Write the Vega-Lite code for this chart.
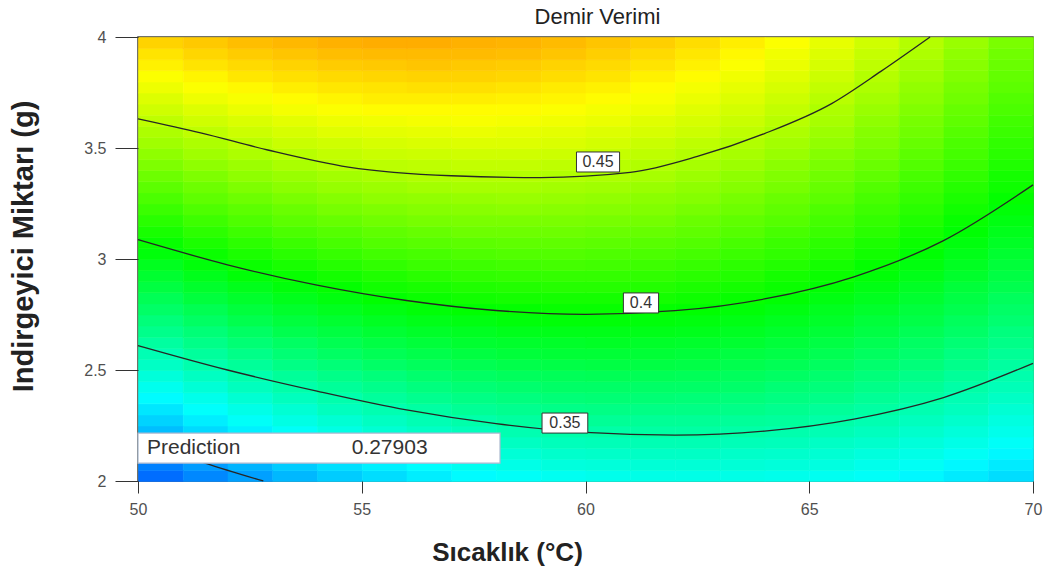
{
"$schema": "https://vega.github.io/schema/vega-lite/v6.json",
"width": 895, "height": 444,
"autosize": "none",
"padding": {"left": 138, "top": 37, "right": 19, "bottom": 90},
"background": "white",
"title": {"text": "Demir Verimi", "font": "Liberation Sans", "fontSize": 22, "fontWeight": "normal", "color": "#222222", "offset": 0, "dx": 12},
"config": {
  "view": {"stroke": "#444436", "strokeWidth": 1.5},
  "axis": {"domain": false, "grid": false, "labelFont": "Liberation Sans", "titleFont": "Liberation Sans", "labelColor": "#505050", "tickColor": "#333333", "titleColor": "#222222"},
  "axisX": {"format": "d", "labelFlush": false, "tickSize": 12, "labelPadding": 8, "labelFontSize": 16,
            "titleFontSize": 26, "titleFontWeight": "bold", "titleX": 369, "titleY": 79, "titleBaseline": "alphabetic", "titleAlign": "center"},
  "axisY": {"format": "~g", "labelFlush": false, "tickSize": 23, "labelPadding": 9, "labelFontSize": 16,
            "titleFontSize": 29, "titleFontWeight": "bold", "titleAngle": -90, "titleX": -106, "titleY": 209, "titleBaseline": "alphabetic", "titleAlign": "center"}
},
"layer": [
{
"data": {"values": [
{"t":50.5,"m":2.025,"v":0.282},{"t":51.5,"m":2.025,"v":0.290},{"t":52.5,"m":2.025,"v":0.297},{"t":53.5,"m":2.025,"v":0.304},{"t":54.5,"m":2.025,"v":0.310},{"t":55.5,"m":2.025,"v":0.315},{"t":56.5,"m":2.025,"v":0.320},{"t":57.5,"m":2.025,"v":0.324},{"t":58.5,"m":2.025,"v":0.327},{"t":59.5,"m":2.025,"v":0.329},{"t":60.5,"m":2.025,"v":0.331},{"t":61.5,"m":2.025,"v":0.332},{"t":62.5,"m":2.025,"v":0.332},{"t":63.5,"m":2.025,"v":0.332},{"t":64.5,"m":2.025,"v":0.331},{"t":65.5,"m":2.025,"v":0.329},{"t":66.5,"m":2.025,"v":0.327},{"t":67.5,"m":2.025,"v":0.323},{"t":68.5,"m":2.025,"v":0.319},{"t":69.5,"m":2.025,"v":0.315},
{"t":50.5,"m":2.075,"v":0.288},{"t":51.5,"m":2.075,"v":0.296},{"t":52.5,"m":2.075,"v":0.303},{"t":53.5,"m":2.075,"v":0.310},{"t":54.5,"m":2.075,"v":0.316},{"t":55.5,"m":2.075,"v":0.321},{"t":56.5,"m":2.075,"v":0.325},{"t":57.5,"m":2.075,"v":0.329},{"t":58.5,"m":2.075,"v":0.332},{"t":59.5,"m":2.075,"v":0.335},{"t":60.5,"m":2.075,"v":0.336},{"t":61.5,"m":2.075,"v":0.337},{"t":62.5,"m":2.075,"v":0.337},{"t":63.5,"m":2.075,"v":0.337},{"t":64.5,"m":2.075,"v":0.336},{"t":65.5,"m":2.075,"v":0.334},{"t":66.5,"m":2.075,"v":0.331},{"t":67.5,"m":2.075,"v":0.328},{"t":68.5,"m":2.075,"v":0.323},{"t":69.5,"m":2.075,"v":0.319},
{"t":50.5,"m":2.125,"v":0.294},{"t":51.5,"m":2.125,"v":0.302},{"t":52.5,"m":2.125,"v":0.309},{"t":53.5,"m":2.125,"v":0.316},{"t":54.5,"m":2.125,"v":0.321},{"t":55.5,"m":2.125,"v":0.326},{"t":56.5,"m":2.125,"v":0.331},{"t":57.5,"m":2.125,"v":0.335},{"t":58.5,"m":2.125,"v":0.337},{"t":59.5,"m":2.125,"v":0.340},{"t":60.5,"m":2.125,"v":0.341},{"t":61.5,"m":2.125,"v":0.342},{"t":62.5,"m":2.125,"v":0.342},{"t":63.5,"m":2.125,"v":0.341},{"t":64.5,"m":2.125,"v":0.340},{"t":65.5,"m":2.125,"v":0.338},{"t":66.5,"m":2.125,"v":0.335},{"t":67.5,"m":2.125,"v":0.332},{"t":68.5,"m":2.125,"v":0.328},{"t":69.5,"m":2.125,"v":0.323},
{"t":50.5,"m":2.175,"v":0.300},{"t":51.5,"m":2.175,"v":0.308},{"t":52.5,"m":2.175,"v":0.315},{"t":53.5,"m":2.175,"v":0.321},{"t":54.5,"m":2.175,"v":0.327},{"t":55.5,"m":2.175,"v":0.332},{"t":56.5,"m":2.175,"v":0.336},{"t":57.5,"m":2.175,"v":0.340},{"t":58.5,"m":2.175,"v":0.343},{"t":59.5,"m":2.175,"v":0.345},{"t":60.5,"m":2.175,"v":0.346},{"t":61.5,"m":2.175,"v":0.347},{"t":62.5,"m":2.175,"v":0.347},{"t":63.5,"m":2.175,"v":0.346},{"t":64.5,"m":2.175,"v":0.345},{"t":65.5,"m":2.175,"v":0.342},{"t":66.5,"m":2.175,"v":0.340},{"t":67.5,"m":2.175,"v":0.336},{"t":68.5,"m":2.175,"v":0.332},{"t":69.5,"m":2.175,"v":0.327},
{"t":50.5,"m":2.225,"v":0.306},{"t":51.5,"m":2.225,"v":0.314},{"t":52.5,"m":2.225,"v":0.321},{"t":53.5,"m":2.225,"v":0.327},{"t":54.5,"m":2.225,"v":0.333},{"t":55.5,"m":2.225,"v":0.338},{"t":56.5,"m":2.225,"v":0.342},{"t":57.5,"m":2.225,"v":0.345},{"t":58.5,"m":2.225,"v":0.348},{"t":59.5,"m":2.225,"v":0.350},{"t":60.5,"m":2.225,"v":0.351},{"t":61.5,"m":2.225,"v":0.352},{"t":62.5,"m":2.225,"v":0.352},{"t":63.5,"m":2.225,"v":0.351},{"t":64.5,"m":2.225,"v":0.349},{"t":65.5,"m":2.225,"v":0.347},{"t":66.5,"m":2.225,"v":0.344},{"t":67.5,"m":2.225,"v":0.340},{"t":68.5,"m":2.225,"v":0.336},{"t":69.5,"m":2.225,"v":0.331},
{"t":50.5,"m":2.275,"v":0.312},{"t":51.5,"m":2.275,"v":0.320},{"t":52.5,"m":2.275,"v":0.327},{"t":53.5,"m":2.275,"v":0.333},{"t":54.5,"m":2.275,"v":0.338},{"t":55.5,"m":2.275,"v":0.343},{"t":56.5,"m":2.275,"v":0.347},{"t":57.5,"m":2.275,"v":0.350},{"t":58.5,"m":2.275,"v":0.353},{"t":59.5,"m":2.275,"v":0.355},{"t":60.5,"m":2.275,"v":0.356},{"t":61.5,"m":2.275,"v":0.356},{"t":62.5,"m":2.275,"v":0.356},{"t":63.5,"m":2.275,"v":0.355},{"t":64.5,"m":2.275,"v":0.354},{"t":65.5,"m":2.275,"v":0.351},{"t":66.5,"m":2.275,"v":0.348},{"t":67.5,"m":2.275,"v":0.344},{"t":68.5,"m":2.275,"v":0.340},{"t":69.5,"m":2.275,"v":0.334},
{"t":50.5,"m":2.325,"v":0.318},{"t":51.5,"m":2.325,"v":0.326},{"t":52.5,"m":2.325,"v":0.332},{"t":53.5,"m":2.325,"v":0.338},{"t":54.5,"m":2.325,"v":0.344},{"t":55.5,"m":2.325,"v":0.348},{"t":56.5,"m":2.325,"v":0.352},{"t":57.5,"m":2.325,"v":0.356},{"t":58.5,"m":2.325,"v":0.358},{"t":59.5,"m":2.325,"v":0.360},{"t":60.5,"m":2.325,"v":0.361},{"t":61.5,"m":2.325,"v":0.361},{"t":62.5,"m":2.325,"v":0.361},{"t":63.5,"m":2.325,"v":0.360},{"t":64.5,"m":2.325,"v":0.358},{"t":65.5,"m":2.325,"v":0.355},{"t":66.5,"m":2.325,"v":0.352},{"t":67.5,"m":2.325,"v":0.348},{"t":68.5,"m":2.325,"v":0.344},{"t":69.5,"m":2.325,"v":0.338},
{"t":50.5,"m":2.375,"v":0.324},{"t":51.5,"m":2.375,"v":0.331},{"t":52.5,"m":2.375,"v":0.338},{"t":53.5,"m":2.375,"v":0.344},{"t":54.5,"m":2.375,"v":0.349},{"t":55.5,"m":2.375,"v":0.354},{"t":56.5,"m":2.375,"v":0.358},{"t":57.5,"m":2.375,"v":0.361},{"t":58.5,"m":2.375,"v":0.363},{"t":59.5,"m":2.375,"v":0.365},{"t":60.5,"m":2.375,"v":0.366},{"t":61.5,"m":2.375,"v":0.366},{"t":62.5,"m":2.375,"v":0.365},{"t":63.5,"m":2.375,"v":0.364},{"t":64.5,"m":2.375,"v":0.362},{"t":65.5,"m":2.375,"v":0.360},{"t":66.5,"m":2.375,"v":0.356},{"t":67.5,"m":2.375,"v":0.352},{"t":68.5,"m":2.375,"v":0.347},{"t":69.5,"m":2.375,"v":0.342},
{"t":50.5,"m":2.425,"v":0.330},{"t":51.5,"m":2.425,"v":0.337},{"t":52.5,"m":2.425,"v":0.344},{"t":53.5,"m":2.425,"v":0.350},{"t":54.5,"m":2.425,"v":0.355},{"t":55.5,"m":2.425,"v":0.359},{"t":56.5,"m":2.425,"v":0.363},{"t":57.5,"m":2.425,"v":0.366},{"t":58.5,"m":2.425,"v":0.368},{"t":59.5,"m":2.425,"v":0.370},{"t":60.5,"m":2.425,"v":0.370},{"t":61.5,"m":2.425,"v":0.370},{"t":62.5,"m":2.425,"v":0.370},{"t":63.5,"m":2.425,"v":0.369},{"t":64.5,"m":2.425,"v":0.366},{"t":65.5,"m":2.425,"v":0.364},{"t":66.5,"m":2.425,"v":0.360},{"t":67.5,"m":2.425,"v":0.356},{"t":68.5,"m":2.425,"v":0.351},{"t":69.5,"m":2.425,"v":0.346},
{"t":50.5,"m":2.475,"v":0.336},{"t":51.5,"m":2.475,"v":0.343},{"t":52.5,"m":2.475,"v":0.349},{"t":53.5,"m":2.475,"v":0.355},{"t":54.5,"m":2.475,"v":0.360},{"t":55.5,"m":2.475,"v":0.364},{"t":56.5,"m":2.475,"v":0.368},{"t":57.5,"m":2.475,"v":0.371},{"t":58.5,"m":2.475,"v":0.373},{"t":59.5,"m":2.475,"v":0.374},{"t":60.5,"m":2.475,"v":0.375},{"t":61.5,"m":2.475,"v":0.375},{"t":62.5,"m":2.475,"v":0.374},{"t":63.5,"m":2.475,"v":0.373},{"t":64.5,"m":2.475,"v":0.371},{"t":65.5,"m":2.475,"v":0.368},{"t":66.5,"m":2.475,"v":0.364},{"t":67.5,"m":2.475,"v":0.360},{"t":68.5,"m":2.475,"v":0.355},{"t":69.5,"m":2.475,"v":0.349},
{"t":50.5,"m":2.525,"v":0.342},{"t":51.5,"m":2.525,"v":0.349},{"t":52.5,"m":2.525,"v":0.355},{"t":53.5,"m":2.525,"v":0.361},{"t":54.5,"m":2.525,"v":0.365},{"t":55.5,"m":2.525,"v":0.370},{"t":56.5,"m":2.525,"v":0.373},{"t":57.5,"m":2.525,"v":0.376},{"t":58.5,"m":2.525,"v":0.378},{"t":59.5,"m":2.525,"v":0.379},{"t":60.5,"m":2.525,"v":0.380},{"t":61.5,"m":2.525,"v":0.380},{"t":62.5,"m":2.525,"v":0.379},{"t":63.5,"m":2.525,"v":0.377},{"t":64.5,"m":2.525,"v":0.375},{"t":65.5,"m":2.525,"v":0.372},{"t":66.5,"m":2.525,"v":0.368},{"t":67.5,"m":2.525,"v":0.364},{"t":68.5,"m":2.525,"v":0.359},{"t":69.5,"m":2.525,"v":0.353},
{"t":50.5,"m":2.575,"v":0.347},{"t":51.5,"m":2.575,"v":0.354},{"t":52.5,"m":2.575,"v":0.360},{"t":53.5,"m":2.575,"v":0.366},{"t":54.5,"m":2.575,"v":0.371},{"t":55.5,"m":2.575,"v":0.375},{"t":56.5,"m":2.575,"v":0.378},{"t":57.5,"m":2.575,"v":0.381},{"t":58.5,"m":2.575,"v":0.383},{"t":59.5,"m":2.575,"v":0.384},{"t":60.5,"m":2.575,"v":0.384},{"t":61.5,"m":2.575,"v":0.384},{"t":62.5,"m":2.575,"v":0.383},{"t":63.5,"m":2.575,"v":0.381},{"t":64.5,"m":2.575,"v":0.379},{"t":65.5,"m":2.575,"v":0.376},{"t":66.5,"m":2.575,"v":0.372},{"t":67.5,"m":2.575,"v":0.368},{"t":68.5,"m":2.575,"v":0.362},{"t":69.5,"m":2.575,"v":0.356},
{"t":50.5,"m":2.625,"v":0.353},{"t":51.5,"m":2.625,"v":0.360},{"t":52.5,"m":2.625,"v":0.366},{"t":53.5,"m":2.625,"v":0.371},{"t":54.5,"m":2.625,"v":0.376},{"t":55.5,"m":2.625,"v":0.380},{"t":56.5,"m":2.625,"v":0.383},{"t":57.5,"m":2.625,"v":0.386},{"t":58.5,"m":2.625,"v":0.387},{"t":59.5,"m":2.625,"v":0.388},{"t":60.5,"m":2.625,"v":0.389},{"t":61.5,"m":2.625,"v":0.388},{"t":62.5,"m":2.625,"v":0.387},{"t":63.5,"m":2.625,"v":0.386},{"t":64.5,"m":2.625,"v":0.383},{"t":65.5,"m":2.625,"v":0.380},{"t":66.5,"m":2.625,"v":0.376},{"t":67.5,"m":2.625,"v":0.371},{"t":68.5,"m":2.625,"v":0.366},{"t":69.5,"m":2.625,"v":0.360},
{"t":50.5,"m":2.675,"v":0.359},{"t":51.5,"m":2.675,"v":0.365},{"t":52.5,"m":2.675,"v":0.371},{"t":53.5,"m":2.675,"v":0.377},{"t":54.5,"m":2.675,"v":0.381},{"t":55.5,"m":2.675,"v":0.385},{"t":56.5,"m":2.675,"v":0.388},{"t":57.5,"m":2.675,"v":0.390},{"t":58.5,"m":2.675,"v":0.392},{"t":59.5,"m":2.675,"v":0.393},{"t":60.5,"m":2.675,"v":0.393},{"t":61.5,"m":2.675,"v":0.393},{"t":62.5,"m":2.675,"v":0.392},{"t":63.5,"m":2.675,"v":0.390},{"t":64.5,"m":2.675,"v":0.387},{"t":65.5,"m":2.675,"v":0.384},{"t":66.5,"m":2.675,"v":0.380},{"t":67.5,"m":2.675,"v":0.375},{"t":68.5,"m":2.675,"v":0.370},{"t":69.5,"m":2.675,"v":0.363},
{"t":50.5,"m":2.725,"v":0.364},{"t":51.5,"m":2.725,"v":0.371},{"t":52.5,"m":2.725,"v":0.377},{"t":53.5,"m":2.725,"v":0.382},{"t":54.5,"m":2.725,"v":0.386},{"t":55.5,"m":2.725,"v":0.390},{"t":56.5,"m":2.725,"v":0.393},{"t":57.5,"m":2.725,"v":0.395},{"t":58.5,"m":2.725,"v":0.397},{"t":59.5,"m":2.725,"v":0.398},{"t":60.5,"m":2.725,"v":0.398},{"t":61.5,"m":2.725,"v":0.397},{"t":62.5,"m":2.725,"v":0.396},{"t":63.5,"m":2.725,"v":0.394},{"t":64.5,"m":2.725,"v":0.391},{"t":65.5,"m":2.725,"v":0.388},{"t":66.5,"m":2.725,"v":0.383},{"t":67.5,"m":2.725,"v":0.379},{"t":68.5,"m":2.725,"v":0.373},{"t":69.5,"m":2.725,"v":0.367},
{"t":50.5,"m":2.775,"v":0.370},{"t":51.5,"m":2.775,"v":0.376},{"t":52.5,"m":2.775,"v":0.382},{"t":53.5,"m":2.775,"v":0.387},{"t":54.5,"m":2.775,"v":0.391},{"t":55.5,"m":2.775,"v":0.395},{"t":56.5,"m":2.775,"v":0.398},{"t":57.5,"m":2.775,"v":0.400},{"t":58.5,"m":2.775,"v":0.401},{"t":59.5,"m":2.775,"v":0.402},{"t":60.5,"m":2.775,"v":0.402},{"t":61.5,"m":2.775,"v":0.401},{"t":62.5,"m":2.775,"v":0.400},{"t":63.5,"m":2.775,"v":0.398},{"t":64.5,"m":2.775,"v":0.395},{"t":65.5,"m":2.775,"v":0.391},{"t":66.5,"m":2.775,"v":0.387},{"t":67.5,"m":2.775,"v":0.382},{"t":68.5,"m":2.775,"v":0.377},{"t":69.5,"m":2.775,"v":0.370},
{"t":50.5,"m":2.825,"v":0.375},{"t":51.5,"m":2.825,"v":0.382},{"t":52.5,"m":2.825,"v":0.387},{"t":53.5,"m":2.825,"v":0.392},{"t":54.5,"m":2.825,"v":0.396},{"t":55.5,"m":2.825,"v":0.400},{"t":56.5,"m":2.825,"v":0.403},{"t":57.5,"m":2.825,"v":0.405},{"t":58.5,"m":2.825,"v":0.406},{"t":59.5,"m":2.825,"v":0.406},{"t":60.5,"m":2.825,"v":0.406},{"t":61.5,"m":2.825,"v":0.406},{"t":62.5,"m":2.825,"v":0.404},{"t":63.5,"m":2.825,"v":0.402},{"t":64.5,"m":2.825,"v":0.399},{"t":65.5,"m":2.825,"v":0.395},{"t":66.5,"m":2.825,"v":0.391},{"t":67.5,"m":2.825,"v":0.386},{"t":68.5,"m":2.825,"v":0.380},{"t":69.5,"m":2.825,"v":0.373},
{"t":50.5,"m":2.875,"v":0.381},{"t":51.5,"m":2.875,"v":0.387},{"t":52.5,"m":2.875,"v":0.392},{"t":53.5,"m":2.875,"v":0.397},{"t":54.5,"m":2.875,"v":0.401},{"t":55.5,"m":2.875,"v":0.405},{"t":56.5,"m":2.875,"v":0.407},{"t":57.5,"m":2.875,"v":0.409},{"t":58.5,"m":2.875,"v":0.410},{"t":59.5,"m":2.875,"v":0.411},{"t":60.5,"m":2.875,"v":0.411},{"t":61.5,"m":2.875,"v":0.410},{"t":62.5,"m":2.875,"v":0.408},{"t":63.5,"m":2.875,"v":0.406},{"t":64.5,"m":2.875,"v":0.403},{"t":65.5,"m":2.875,"v":0.399},{"t":66.5,"m":2.875,"v":0.394},{"t":67.5,"m":2.875,"v":0.389},{"t":68.5,"m":2.875,"v":0.383},{"t":69.5,"m":2.875,"v":0.377},
{"t":50.5,"m":2.925,"v":0.386},{"t":51.5,"m":2.925,"v":0.392},{"t":52.5,"m":2.925,"v":0.398},{"t":53.5,"m":2.925,"v":0.402},{"t":54.5,"m":2.925,"v":0.406},{"t":55.5,"m":2.925,"v":0.409},{"t":56.5,"m":2.925,"v":0.412},{"t":57.5,"m":2.925,"v":0.414},{"t":58.5,"m":2.925,"v":0.415},{"t":59.5,"m":2.925,"v":0.415},{"t":60.5,"m":2.925,"v":0.415},{"t":61.5,"m":2.925,"v":0.414},{"t":62.5,"m":2.925,"v":0.412},{"t":63.5,"m":2.925,"v":0.410},{"t":64.5,"m":2.925,"v":0.406},{"t":65.5,"m":2.925,"v":0.403},{"t":66.5,"m":2.925,"v":0.398},{"t":67.5,"m":2.925,"v":0.393},{"t":68.5,"m":2.925,"v":0.387},{"t":69.5,"m":2.925,"v":0.380},
{"t":50.5,"m":2.975,"v":0.391},{"t":51.5,"m":2.975,"v":0.397},{"t":52.5,"m":2.975,"v":0.403},{"t":53.5,"m":2.975,"v":0.407},{"t":54.5,"m":2.975,"v":0.411},{"t":55.5,"m":2.975,"v":0.414},{"t":56.5,"m":2.975,"v":0.417},{"t":57.5,"m":2.975,"v":0.418},{"t":58.5,"m":2.975,"v":0.419},{"t":59.5,"m":2.975,"v":0.420},{"t":60.5,"m":2.975,"v":0.419},{"t":61.5,"m":2.975,"v":0.418},{"t":62.5,"m":2.975,"v":0.416},{"t":63.5,"m":2.975,"v":0.413},{"t":64.5,"m":2.975,"v":0.410},{"t":65.5,"m":2.975,"v":0.406},{"t":66.5,"m":2.975,"v":0.401},{"t":67.5,"m":2.975,"v":0.396},{"t":68.5,"m":2.975,"v":0.390},{"t":69.5,"m":2.975,"v":0.383},
{"t":50.5,"m":3.025,"v":0.397},{"t":51.5,"m":3.025,"v":0.403},{"t":52.5,"m":3.025,"v":0.408},{"t":53.5,"m":3.025,"v":0.412},{"t":54.5,"m":3.025,"v":0.416},{"t":55.5,"m":3.025,"v":0.419},{"t":56.5,"m":3.025,"v":0.421},{"t":57.5,"m":3.025,"v":0.423},{"t":58.5,"m":3.025,"v":0.424},{"t":59.5,"m":3.025,"v":0.424},{"t":60.5,"m":3.025,"v":0.423},{"t":61.5,"m":3.025,"v":0.422},{"t":62.5,"m":3.025,"v":0.420},{"t":63.5,"m":3.025,"v":0.417},{"t":64.5,"m":3.025,"v":0.414},{"t":65.5,"m":3.025,"v":0.410},{"t":66.5,"m":3.025,"v":0.405},{"t":67.5,"m":3.025,"v":0.399},{"t":68.5,"m":3.025,"v":0.393},{"t":69.5,"m":3.025,"v":0.386},
{"t":50.5,"m":3.075,"v":0.402},{"t":51.5,"m":3.075,"v":0.408},{"t":52.5,"m":3.075,"v":0.413},{"t":53.5,"m":3.075,"v":0.417},{"t":54.5,"m":3.075,"v":0.421},{"t":55.5,"m":3.075,"v":0.424},{"t":56.5,"m":3.075,"v":0.426},{"t":57.5,"m":3.075,"v":0.427},{"t":58.5,"m":3.075,"v":0.428},{"t":59.5,"m":3.075,"v":0.428},{"t":60.5,"m":3.075,"v":0.427},{"t":61.5,"m":3.075,"v":0.426},{"t":62.5,"m":3.075,"v":0.424},{"t":63.5,"m":3.075,"v":0.421},{"t":64.5,"m":3.075,"v":0.417},{"t":65.5,"m":3.075,"v":0.413},{"t":66.5,"m":3.075,"v":0.408},{"t":67.5,"m":3.075,"v":0.403},{"t":68.5,"m":3.075,"v":0.396},{"t":69.5,"m":3.075,"v":0.389},
{"t":50.5,"m":3.125,"v":0.407},{"t":51.5,"m":3.125,"v":0.413},{"t":52.5,"m":3.125,"v":0.418},{"t":53.5,"m":3.125,"v":0.422},{"t":54.5,"m":3.125,"v":0.425},{"t":55.5,"m":3.125,"v":0.428},{"t":56.5,"m":3.125,"v":0.430},{"t":57.5,"m":3.125,"v":0.432},{"t":58.5,"m":3.125,"v":0.432},{"t":59.5,"m":3.125,"v":0.432},{"t":60.5,"m":3.125,"v":0.431},{"t":61.5,"m":3.125,"v":0.430},{"t":62.5,"m":3.125,"v":0.428},{"t":63.5,"m":3.125,"v":0.425},{"t":64.5,"m":3.125,"v":0.421},{"t":65.5,"m":3.125,"v":0.417},{"t":66.5,"m":3.125,"v":0.412},{"t":67.5,"m":3.125,"v":0.406},{"t":68.5,"m":3.125,"v":0.399},{"t":69.5,"m":3.125,"v":0.392},
{"t":50.5,"m":3.175,"v":0.412},{"t":51.5,"m":3.175,"v":0.418},{"t":52.5,"m":3.175,"v":0.423},{"t":53.5,"m":3.175,"v":0.427},{"t":54.5,"m":3.175,"v":0.430},{"t":55.5,"m":3.175,"v":0.433},{"t":56.5,"m":3.175,"v":0.435},{"t":57.5,"m":3.175,"v":0.436},{"t":58.5,"m":3.175,"v":0.436},{"t":59.5,"m":3.175,"v":0.436},{"t":60.5,"m":3.175,"v":0.435},{"t":61.5,"m":3.175,"v":0.434},{"t":62.5,"m":3.175,"v":0.431},{"t":63.5,"m":3.175,"v":0.428},{"t":64.5,"m":3.175,"v":0.425},{"t":65.5,"m":3.175,"v":0.420},{"t":66.5,"m":3.175,"v":0.415},{"t":67.5,"m":3.175,"v":0.409},{"t":68.5,"m":3.175,"v":0.402},{"t":69.5,"m":3.175,"v":0.395},
{"t":50.5,"m":3.225,"v":0.417},{"t":51.5,"m":3.225,"v":0.423},{"t":52.5,"m":3.225,"v":0.427},{"t":53.5,"m":3.225,"v":0.431},{"t":54.5,"m":3.225,"v":0.435},{"t":55.5,"m":3.225,"v":0.437},{"t":56.5,"m":3.225,"v":0.439},{"t":57.5,"m":3.225,"v":0.440},{"t":58.5,"m":3.225,"v":0.441},{"t":59.5,"m":3.225,"v":0.440},{"t":60.5,"m":3.225,"v":0.439},{"t":61.5,"m":3.225,"v":0.438},{"t":62.5,"m":3.225,"v":0.435},{"t":63.5,"m":3.225,"v":0.432},{"t":64.5,"m":3.225,"v":0.428},{"t":65.5,"m":3.225,"v":0.423},{"t":66.5,"m":3.225,"v":0.418},{"t":67.5,"m":3.225,"v":0.412},{"t":68.5,"m":3.225,"v":0.405},{"t":69.5,"m":3.225,"v":0.398},
{"t":50.5,"m":3.275,"v":0.422},{"t":51.5,"m":3.275,"v":0.428},{"t":52.5,"m":3.275,"v":0.432},{"t":53.5,"m":3.275,"v":0.436},{"t":54.5,"m":3.275,"v":0.439},{"t":55.5,"m":3.275,"v":0.442},{"t":56.5,"m":3.275,"v":0.443},{"t":57.5,"m":3.275,"v":0.444},{"t":58.5,"m":3.275,"v":0.445},{"t":59.5,"m":3.275,"v":0.444},{"t":60.5,"m":3.275,"v":0.443},{"t":61.5,"m":3.275,"v":0.441},{"t":62.5,"m":3.275,"v":0.439},{"t":63.5,"m":3.275,"v":0.435},{"t":64.5,"m":3.275,"v":0.431},{"t":65.5,"m":3.275,"v":0.427},{"t":66.5,"m":3.275,"v":0.421},{"t":67.5,"m":3.275,"v":0.415},{"t":68.5,"m":3.275,"v":0.408},{"t":69.5,"m":3.275,"v":0.401},
{"t":50.5,"m":3.325,"v":0.427},{"t":51.5,"m":3.325,"v":0.432},{"t":52.5,"m":3.325,"v":0.437},{"t":53.5,"m":3.325,"v":0.441},{"t":54.5,"m":3.325,"v":0.444},{"t":55.5,"m":3.325,"v":0.446},{"t":56.5,"m":3.325,"v":0.448},{"t":57.5,"m":3.325,"v":0.449},{"t":58.5,"m":3.325,"v":0.449},{"t":59.5,"m":3.325,"v":0.448},{"t":60.5,"m":3.325,"v":0.447},{"t":61.5,"m":3.325,"v":0.445},{"t":62.5,"m":3.325,"v":0.442},{"t":63.5,"m":3.325,"v":0.439},{"t":64.5,"m":3.325,"v":0.435},{"t":65.5,"m":3.325,"v":0.430},{"t":66.5,"m":3.325,"v":0.424},{"t":67.5,"m":3.325,"v":0.418},{"t":68.5,"m":3.325,"v":0.411},{"t":69.5,"m":3.325,"v":0.404},
{"t":50.5,"m":3.375,"v":0.432},{"t":51.5,"m":3.375,"v":0.437},{"t":52.5,"m":3.375,"v":0.442},{"t":53.5,"m":3.375,"v":0.445},{"t":54.5,"m":3.375,"v":0.448},{"t":55.5,"m":3.375,"v":0.450},{"t":56.5,"m":3.375,"v":0.452},{"t":57.5,"m":3.375,"v":0.453},{"t":58.5,"m":3.375,"v":0.453},{"t":59.5,"m":3.375,"v":0.452},{"t":60.5,"m":3.375,"v":0.451},{"t":61.5,"m":3.375,"v":0.449},{"t":62.5,"m":3.375,"v":0.446},{"t":63.5,"m":3.375,"v":0.442},{"t":64.5,"m":3.375,"v":0.438},{"t":65.5,"m":3.375,"v":0.433},{"t":66.5,"m":3.375,"v":0.428},{"t":67.5,"m":3.375,"v":0.421},{"t":68.5,"m":3.375,"v":0.414},{"t":69.5,"m":3.375,"v":0.406},
{"t":50.5,"m":3.425,"v":0.437},{"t":51.5,"m":3.425,"v":0.442},{"t":52.5,"m":3.425,"v":0.446},{"t":53.5,"m":3.425,"v":0.450},{"t":54.5,"m":3.425,"v":0.453},{"t":55.5,"m":3.425,"v":0.455},{"t":56.5,"m":3.425,"v":0.456},{"t":57.5,"m":3.425,"v":0.457},{"t":58.5,"m":3.425,"v":0.457},{"t":59.5,"m":3.425,"v":0.456},{"t":60.5,"m":3.425,"v":0.454},{"t":61.5,"m":3.425,"v":0.452},{"t":62.5,"m":3.425,"v":0.449},{"t":63.5,"m":3.425,"v":0.446},{"t":64.5,"m":3.425,"v":0.441},{"t":65.5,"m":3.425,"v":0.436},{"t":66.5,"m":3.425,"v":0.431},{"t":67.5,"m":3.425,"v":0.424},{"t":68.5,"m":3.425,"v":0.417},{"t":69.5,"m":3.425,"v":0.409},
{"t":50.5,"m":3.475,"v":0.442},{"t":51.5,"m":3.475,"v":0.447},{"t":52.5,"m":3.475,"v":0.451},{"t":53.5,"m":3.475,"v":0.454},{"t":54.5,"m":3.475,"v":0.457},{"t":55.5,"m":3.475,"v":0.459},{"t":56.5,"m":3.475,"v":0.460},{"t":57.5,"m":3.475,"v":0.461},{"t":58.5,"m":3.475,"v":0.461},{"t":59.5,"m":3.475,"v":0.460},{"t":60.5,"m":3.475,"v":0.458},{"t":61.5,"m":3.475,"v":0.456},{"t":62.5,"m":3.475,"v":0.453},{"t":63.5,"m":3.475,"v":0.449},{"t":64.5,"m":3.475,"v":0.445},{"t":65.5,"m":3.475,"v":0.439},{"t":66.5,"m":3.475,"v":0.434},{"t":67.5,"m":3.475,"v":0.427},{"t":68.5,"m":3.475,"v":0.420},{"t":69.5,"m":3.475,"v":0.412},
{"t":50.5,"m":3.525,"v":0.447},{"t":51.5,"m":3.525,"v":0.451},{"t":52.5,"m":3.525,"v":0.455},{"t":53.5,"m":3.525,"v":0.459},{"t":54.5,"m":3.525,"v":0.461},{"t":55.5,"m":3.525,"v":0.463},{"t":56.5,"m":3.525,"v":0.464},{"t":57.5,"m":3.525,"v":0.465},{"t":58.5,"m":3.525,"v":0.465},{"t":59.5,"m":3.525,"v":0.464},{"t":60.5,"m":3.525,"v":0.462},{"t":61.5,"m":3.525,"v":0.459},{"t":62.5,"m":3.525,"v":0.456},{"t":63.5,"m":3.525,"v":0.452},{"t":64.5,"m":3.525,"v":0.448},{"t":65.5,"m":3.525,"v":0.443},{"t":66.5,"m":3.525,"v":0.437},{"t":67.5,"m":3.525,"v":0.430},{"t":68.5,"m":3.525,"v":0.422},{"t":69.5,"m":3.525,"v":0.414},
{"t":50.5,"m":3.575,"v":0.451},{"t":51.5,"m":3.575,"v":0.456},{"t":52.5,"m":3.575,"v":0.460},{"t":53.5,"m":3.575,"v":0.463},{"t":54.5,"m":3.575,"v":0.466},{"t":55.5,"m":3.575,"v":0.467},{"t":56.5,"m":3.575,"v":0.468},{"t":57.5,"m":3.575,"v":0.469},{"t":58.5,"m":3.575,"v":0.468},{"t":59.5,"m":3.575,"v":0.467},{"t":60.5,"m":3.575,"v":0.465},{"t":61.5,"m":3.575,"v":0.463},{"t":62.5,"m":3.575,"v":0.460},{"t":63.5,"m":3.575,"v":0.456},{"t":64.5,"m":3.575,"v":0.451},{"t":65.5,"m":3.575,"v":0.446},{"t":66.5,"m":3.575,"v":0.439},{"t":67.5,"m":3.575,"v":0.433},{"t":68.5,"m":3.575,"v":0.425},{"t":69.5,"m":3.575,"v":0.417},
{"t":50.5,"m":3.625,"v":0.456},{"t":51.5,"m":3.625,"v":0.461},{"t":52.5,"m":3.625,"v":0.464},{"t":53.5,"m":3.625,"v":0.467},{"t":54.5,"m":3.625,"v":0.470},{"t":55.5,"m":3.625,"v":0.471},{"t":56.5,"m":3.625,"v":0.472},{"t":57.5,"m":3.625,"v":0.473},{"t":58.5,"m":3.625,"v":0.472},{"t":59.5,"m":3.625,"v":0.471},{"t":60.5,"m":3.625,"v":0.469},{"t":61.5,"m":3.625,"v":0.466},{"t":62.5,"m":3.625,"v":0.463},{"t":63.5,"m":3.625,"v":0.459},{"t":64.5,"m":3.625,"v":0.454},{"t":65.5,"m":3.625,"v":0.449},{"t":66.5,"m":3.625,"v":0.442},{"t":67.5,"m":3.625,"v":0.435},{"t":68.5,"m":3.625,"v":0.428},{"t":69.5,"m":3.625,"v":0.419},
{"t":50.5,"m":3.675,"v":0.461},{"t":51.5,"m":3.675,"v":0.465},{"t":52.5,"m":3.675,"v":0.469},{"t":53.5,"m":3.675,"v":0.472},{"t":54.5,"m":3.675,"v":0.474},{"t":55.5,"m":3.675,"v":0.476},{"t":56.5,"m":3.675,"v":0.476},{"t":57.5,"m":3.675,"v":0.476},{"t":58.5,"m":3.675,"v":0.476},{"t":59.5,"m":3.675,"v":0.474},{"t":60.5,"m":3.675,"v":0.472},{"t":61.5,"m":3.675,"v":0.470},{"t":62.5,"m":3.675,"v":0.466},{"t":63.5,"m":3.675,"v":0.462},{"t":64.5,"m":3.675,"v":0.457},{"t":65.5,"m":3.675,"v":0.451},{"t":66.5,"m":3.675,"v":0.445},{"t":67.5,"m":3.675,"v":0.438},{"t":68.5,"m":3.675,"v":0.430},{"t":69.5,"m":3.675,"v":0.422},
{"t":50.5,"m":3.725,"v":0.465},{"t":51.5,"m":3.725,"v":0.470},{"t":52.5,"m":3.725,"v":0.473},{"t":53.5,"m":3.725,"v":0.476},{"t":54.5,"m":3.725,"v":0.478},{"t":55.5,"m":3.725,"v":0.480},{"t":56.5,"m":3.725,"v":0.480},{"t":57.5,"m":3.725,"v":0.480},{"t":58.5,"m":3.725,"v":0.479},{"t":59.5,"m":3.725,"v":0.478},{"t":60.5,"m":3.725,"v":0.476},{"t":61.5,"m":3.725,"v":0.473},{"t":62.5,"m":3.725,"v":0.469},{"t":63.5,"m":3.725,"v":0.465},{"t":64.5,"m":3.725,"v":0.460},{"t":65.5,"m":3.725,"v":0.454},{"t":66.5,"m":3.725,"v":0.448},{"t":67.5,"m":3.725,"v":0.441},{"t":68.5,"m":3.725,"v":0.433},{"t":69.5,"m":3.725,"v":0.424},
{"t":50.5,"m":3.775,"v":0.470},{"t":51.5,"m":3.775,"v":0.474},{"t":52.5,"m":3.775,"v":0.477},{"t":53.5,"m":3.775,"v":0.480},{"t":54.5,"m":3.775,"v":0.482},{"t":55.5,"m":3.775,"v":0.483},{"t":56.5,"m":3.775,"v":0.484},{"t":57.5,"m":3.775,"v":0.484},{"t":58.5,"m":3.775,"v":0.483},{"t":59.5,"m":3.775,"v":0.481},{"t":60.5,"m":3.775,"v":0.479},{"t":61.5,"m":3.775,"v":0.476},{"t":62.5,"m":3.775,"v":0.472},{"t":63.5,"m":3.775,"v":0.468},{"t":64.5,"m":3.775,"v":0.463},{"t":65.5,"m":3.775,"v":0.457},{"t":66.5,"m":3.775,"v":0.451},{"t":67.5,"m":3.775,"v":0.443},{"t":68.5,"m":3.775,"v":0.435},{"t":69.5,"m":3.775,"v":0.427},
{"t":50.5,"m":3.825,"v":0.474},{"t":51.5,"m":3.825,"v":0.478},{"t":52.5,"m":3.825,"v":0.482},{"t":53.5,"m":3.825,"v":0.484},{"t":54.5,"m":3.825,"v":0.486},{"t":55.5,"m":3.825,"v":0.487},{"t":56.5,"m":3.825,"v":0.488},{"t":57.5,"m":3.825,"v":0.488},{"t":58.5,"m":3.825,"v":0.487},{"t":59.5,"m":3.825,"v":0.485},{"t":60.5,"m":3.825,"v":0.483},{"t":61.5,"m":3.825,"v":0.479},{"t":62.5,"m":3.825,"v":0.476},{"t":63.5,"m":3.825,"v":0.471},{"t":64.5,"m":3.825,"v":0.466},{"t":65.5,"m":3.825,"v":0.460},{"t":66.5,"m":3.825,"v":0.453},{"t":67.5,"m":3.825,"v":0.446},{"t":68.5,"m":3.825,"v":0.438},{"t":69.5,"m":3.825,"v":0.429},
{"t":50.5,"m":3.875,"v":0.479},{"t":51.5,"m":3.875,"v":0.483},{"t":52.5,"m":3.875,"v":0.486},{"t":53.5,"m":3.875,"v":0.488},{"t":54.5,"m":3.875,"v":0.490},{"t":55.5,"m":3.875,"v":0.491},{"t":56.5,"m":3.875,"v":0.492},{"t":57.5,"m":3.875,"v":0.491},{"t":58.5,"m":3.875,"v":0.490},{"t":59.5,"m":3.875,"v":0.488},{"t":60.5,"m":3.875,"v":0.486},{"t":61.5,"m":3.875,"v":0.483},{"t":62.5,"m":3.875,"v":0.479},{"t":63.5,"m":3.875,"v":0.474},{"t":64.5,"m":3.875,"v":0.469},{"t":65.5,"m":3.875,"v":0.463},{"t":66.5,"m":3.875,"v":0.456},{"t":67.5,"m":3.875,"v":0.448},{"t":68.5,"m":3.875,"v":0.440},{"t":69.5,"m":3.875,"v":0.431},
{"t":50.5,"m":3.925,"v":0.483},{"t":51.5,"m":3.925,"v":0.487},{"t":52.5,"m":3.925,"v":0.490},{"t":53.5,"m":3.925,"v":0.492},{"t":54.5,"m":3.925,"v":0.494},{"t":55.5,"m":3.925,"v":0.495},{"t":56.5,"m":3.925,"v":0.495},{"t":57.5,"m":3.925,"v":0.495},{"t":58.5,"m":3.925,"v":0.494},{"t":59.5,"m":3.925,"v":0.492},{"t":60.5,"m":3.925,"v":0.489},{"t":61.5,"m":3.925,"v":0.486},{"t":62.5,"m":3.925,"v":0.482},{"t":63.5,"m":3.925,"v":0.477},{"t":64.5,"m":3.925,"v":0.471},{"t":65.5,"m":3.925,"v":0.465},{"t":66.5,"m":3.925,"v":0.458},{"t":67.5,"m":3.925,"v":0.451},{"t":68.5,"m":3.925,"v":0.442},{"t":69.5,"m":3.925,"v":0.433},
{"t":50.5,"m":3.975,"v":0.488},{"t":51.5,"m":3.975,"v":0.491},{"t":52.5,"m":3.975,"v":0.494},{"t":53.5,"m":3.975,"v":0.496},{"t":54.5,"m":3.975,"v":0.498},{"t":55.5,"m":3.975,"v":0.499},{"t":56.5,"m":3.975,"v":0.499},{"t":57.5,"m":3.975,"v":0.498},{"t":58.5,"m":3.975,"v":0.497},{"t":59.5,"m":3.975,"v":0.495},{"t":60.5,"m":3.975,"v":0.492},{"t":61.5,"m":3.975,"v":0.489},{"t":62.5,"m":3.975,"v":0.485},{"t":63.5,"m":3.975,"v":0.480},{"t":64.5,"m":3.975,"v":0.474},{"t":65.5,"m":3.975,"v":0.468},{"t":66.5,"m":3.975,"v":0.461},{"t":67.5,"m":3.975,"v":0.453},{"t":68.5,"m":3.975,"v":0.445},{"t":69.5,"m":3.975,"v":0.436}
]},
"mark": {"type": "rect", "strokeWidth": 0.6},
"encoding": {
  "x": {"field": "t", "type": "quantitative", "bin": {"step": 1, "extent": [50, 70], "nice": false},
        "scale": {"domain": [50, 70], "nice": false, "zero": false},
        "axis": {"values": [50, 55, 60, 65, 70], "title": "Sıcaklık (°C)"}},
  "y": {"field": "m", "type": "quantitative", "bin": {"step": 0.05, "extent": [2, 4], "nice": false},
        "scale": {"domain": [2, 4], "nice": false, "zero": false},
        "axis": {"values": [2, 2.5, 3, 3.5, 4], "title": "Indirgeyici Miktarı (g)"}},
  "color": {"field": "v", "type": "quantitative", "scale": {"domain": [0.25, 0.325, 0.4, 0.475, 0.55], "range": ["#0000ff", "#00ffff", "#00ff00", "#ffff00", "#ff0000"], "interpolate": "rgb"}, "legend": null},
  "stroke": {"field": "v", "type": "quantitative", "scale": {"domain": [0.25, 0.325, 0.4, 0.475, 0.55], "range": ["#0000ff", "#00ffff", "#00ff00", "#ffff00", "#ff0000"], "interpolate": "rgb"}, "legend": null}
}
},
{
"data": {"values": [
{"lvl":"0.45","t":50,"m":3.631},{"lvl":"0.45","t":51.4,"m":3.568},{"lvl":"0.45","t":52.9,"m":3.491},{"lvl":"0.45","t":54.7,"m":3.414},{"lvl":"0.45","t":57,"m":3.375},{"lvl":"0.45","t":59,"m":3.367},{"lvl":"0.45","t":61,"m":3.39},{"lvl":"0.45","t":62.5,"m":3.462},{"lvl":"0.45","t":64,"m":3.565},{"lvl":"0.45","t":65.5,"m":3.7},{"lvl":"0.45","t":66.6,"m":3.845},{"lvl":"0.45","t":67.7,"m":4.0},
{"lvl":"0.4","t":50,"m":3.087},{"lvl":"0.4","t":52,"m":2.974},{"lvl":"0.4","t":54,"m":2.882},{"lvl":"0.4","t":56,"m":2.813},{"lvl":"0.4","t":58,"m":2.768},{"lvl":"0.4","t":60,"m":2.751},{"lvl":"0.4","t":62,"m":2.767},{"lvl":"0.4","t":64,"m":2.82},{"lvl":"0.4","t":66,"m":2.92},{"lvl":"0.4","t":68,"m":3.083},{"lvl":"0.4","t":70,"m":3.334},
{"lvl":"0.35","t":50,"m":2.61},{"lvl":"0.35","t":52,"m":2.5},{"lvl":"0.35","t":54,"m":2.405},{"lvl":"0.35","t":56,"m":2.32},{"lvl":"0.35","t":58,"m":2.258},{"lvl":"0.35","t":60,"m":2.219},{"lvl":"0.35","t":62,"m":2.207},{"lvl":"0.35","t":64,"m":2.225},{"lvl":"0.35","t":66,"m":2.279},{"lvl":"0.35","t":68,"m":2.376},{"lvl":"0.35","t":70,"m":2.53},
{"lvl":"0.3","t":50,"m":2.19},{"lvl":"0.3","t":51.5,"m":2.081},{"lvl":"0.3","t":52.8,"m":2.0}
]},
"mark": {"type": "line", "interpolate": "monotone", "color": "#262626", "strokeWidth": 1.3},
"encoding": {
  "x": {"field": "t", "type": "quantitative", "title": "Sıcaklık (°C)"},
  "y": {"field": "m", "type": "quantitative", "title": "Indirgeyici Miktarı (g)"},
  "detail": {"field": "lvl", "type": "nominal"}
}
},
{
"data": {"values": [
{"t":60.28,"m":3.437,"lab":"0.45"},{"t":61.24,"m":2.802,"lab":"0.4"},{"t":59.54,"m":2.261,"lab":"0.35"}
]},
"mark": {"type": "point", "filled": true, "fill": "white", "stroke": "#333333", "strokeWidth": 1, "opacity": 1, "size": 1936},
"encoding": {
  "x": {"field": "t", "type": "quantitative", "title": "Sıcaklık (°C)"},
  "y": {"field": "m", "type": "quantitative", "title": "Indirgeyici Miktarı (g)"},
  "shape": {"field": "lab", "type": "nominal", "legend": null,
            "scale": {"domain": ["0.45", "0.4", "0.35"], "range": ["M-0.98,-0.455L0.98,-0.455L0.98,0.455L-0.98,0.455Z", "M-0.8,-0.455L0.8,-0.455L0.8,0.455L-0.8,0.455Z", "M-1.04,-0.455L1.04,-0.455L1.04,0.455L-1.04,0.455Z"]}}
}
},
{
"data": {"values": [
{"t":60.28,"m":3.437,"lab":"0.45"},{"t":61.24,"m":2.802,"lab":"0.4"},{"t":59.54,"m":2.261,"lab":"0.35"}
]},
"mark": {"type": "text", "font": "Liberation Sans", "fontSize": 16, "color": "#333333", "align": "center", "baseline": "middle"},
"encoding": {
  "x": {"field": "t", "type": "quantitative", "title": "Sıcaklık (°C)"},
  "y": {"field": "m", "type": "quantitative", "title": "Indirgeyici Miktarı (g)"},
  "text": {"field": "lab", "type": "nominal"}
}
},
{
"data": {"values": [{"t":54.045,"m":2.148}]},
"mark": {"type": "point", "filled": true, "fill": "white", "stroke": "#a9b8cf", "strokeWidth": 1.2, "opacity": 1, "size": 131044, "shape": "M-1,-0.083L1,-0.083L1,0.083L-1,0.083Z"},
"encoding": {
  "x": {"field": "t", "type": "quantitative", "title": "Sıcaklık (°C)"},
  "y": {"field": "m", "type": "quantitative", "title": "Indirgeyici Miktarı (g)"}
}
},
{
"data": {"values": [{"t":50.2,"m":2.149,"txt":"Prediction"},{"t":54.775,"m":2.149,"txt":"0.27903"}]},
"mark": {"type": "text", "font": "Liberation Sans", "fontSize": 21, "color": "#333333", "align": "left", "baseline": "middle"},
"encoding": {
  "x": {"field": "t", "type": "quantitative", "title": "Sıcaklık (°C)"},
  "y": {"field": "m", "type": "quantitative", "title": "Indirgeyici Miktarı (g)"},
  "text": {"field": "txt", "type": "nominal"}
}
}
]
}
